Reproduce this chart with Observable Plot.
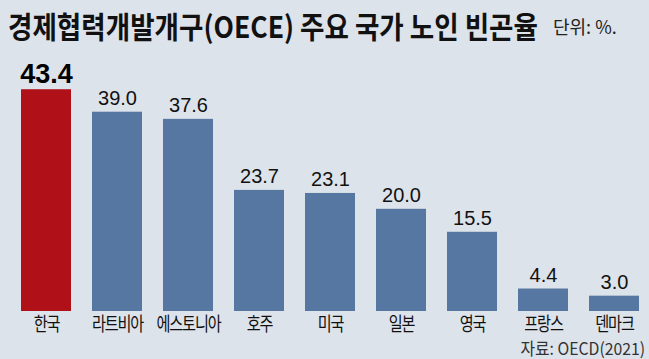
<!DOCTYPE html>
<html><head><meta charset="utf-8">
<script src="https://cdn.jsdelivr.net/npm/d3@7"></script>
<script src="https://cdn.jsdelivr.net/npm/@observablehq/plot@0.6"></script>
<style>
html,body{margin:0;padding:0;background:#dde3ea;}
#wrap{position:relative;width:649px;height:359px;overflow:hidden;background:#dde3ea;font-family:"Liberation Sans","Noto Sans CJK KR",sans-serif;color:#111;}
#title{position:absolute;left:8px;top:5px;font-family:"Noto Sans CJK KR",sans-serif;font-weight:700;font-size:30px;transform:scaleX(0.885);transform-origin:left top;white-space:nowrap;line-height:40px;}
#unit{position:absolute;left:553px;top:13px;font-family:"Noto Sans CJK KR",sans-serif;font-size:18px;white-space:nowrap;color:#222;line-height:26px;}
#chart{position:absolute;left:0;top:50px;}
#source{position:absolute;right:4px;top:339px;font-family:"Noto Sans CJK KR",sans-serif;font-size:17px;transform:scaleX(0.93);transform-origin:right top;white-space:nowrap;color:#333;line-height:17px;}
</style></head>
<body>
<div id="wrap">
  <div id="title">경제협력개발개구(OECE) 주요 국가 노인 빈곤율</div>
  <div id="unit">단위: %.</div>
  <div id="chart"></div>
  <div id="source">자료: OECD(2021)</div>
</div>
<script>
const countries = ["한국","라트비아","에스토니아","호주","미국","일본","영국","프랑스","덴마크"];
const rates = [43.4, 39.0, 37.6, 23.7, 23.1, 20.0, 15.5, 4.4, 3.0];
const highlight = "한국";

const data = countries.map((c, i) => ({country: c, rate: rates[i], hi: c === highlight}));

const chart = Plot.plot({
  width: 649,
  height: 309,
  marginLeft: 18,
  marginRight: 6,
  marginTop: 5.5,
  marginBottom: 48,
  style: {background: "transparent", color: "#111"},
  x: {domain: countries, paddingInner: 0.289, paddingOuter: 0, label: null},
  y: {domain: [0, 50], axis: null},
  marks: [
    Plot.barY(data, {x: "country", y: "rate", fill: d => d.hi ? "#b01119" : "#5577a2"}),
    Plot.text(data.filter(d => !d.hi), {x: "country", y: "rate", text: d => d.rate.toFixed(1), lineAnchor: "bottom", dy: -7, fontSize: 20, fill: "#111", fontFamily: "Liberation Sans, Arial, sans-serif"}),
    Plot.text(data.filter(d => d.hi), {x: "country", y: "rate", text: d => d.rate.toFixed(1), lineAnchor: "bottom", dy: -7, fontSize: 27, fontWeight: "bold", fill: "#000", fontFamily: "Liberation Sans, Arial, sans-serif"}),
    Plot.axisX({tickSize: 0, tickPadding: 6, fontSize: 19, label: null, fontFamily: "Noto Sans CJK KR, sans-serif", fill: "#111"})
  ]
});
document.getElementById("chart").appendChild(chart);
// condense the category labels horizontally, like the reference's narrow Korean font
chart.querySelectorAll('g[aria-label="x-axis tick label"] text').forEach(t => {
  const tr = t.getAttribute("transform") || "";
  t.setAttribute("transform", tr + " scale(0.8,1)");
  t.style.letterSpacing = "-1.5px";
});
</script>
</body></html>
